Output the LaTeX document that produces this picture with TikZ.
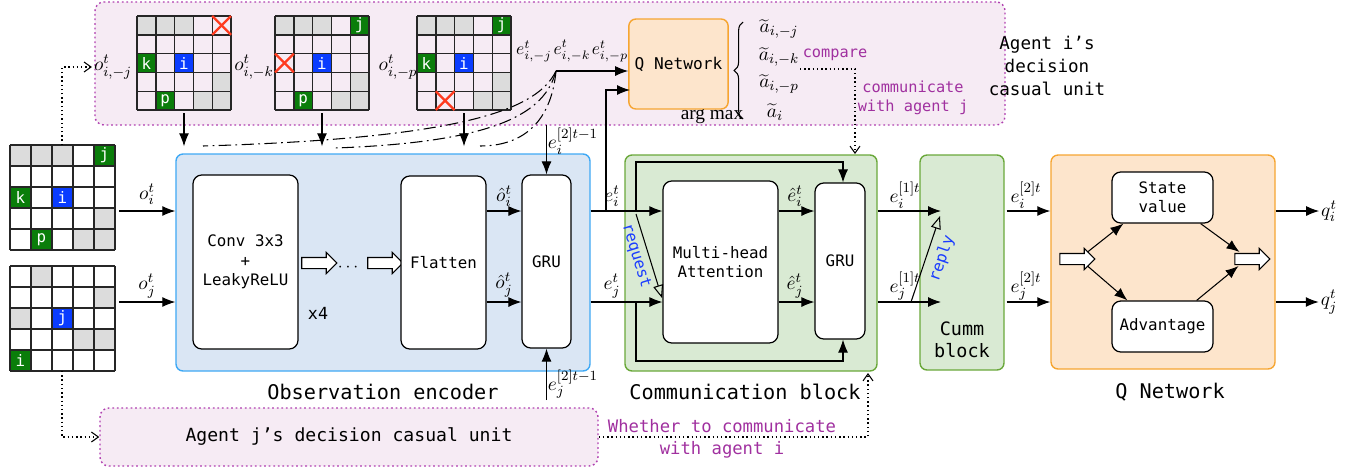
\documentclass[tikz,border=0pt]{standalone}
\usepackage{fontspec}
\setmainfont{Liberation Serif}
\setmonofont{DejaVu Sans Mono}
\usetikzlibrary{arrows.meta, shapes.arrows, positioning, decorations.pathreplacing, calc}

\definecolor{unitpink}{HTML}{F6EBF4}
\definecolor{unitline}{HTML}{B040B0}
\definecolor{talk}{HTML}{A0309F}
\definecolor{encfill}{HTML}{DAE6F4}
\definecolor{encline}{HTML}{3FA9F5}
\definecolor{commfill}{HTML}{D9EAD3}
\definecolor{commline}{HTML}{6AA83A}
\definecolor{qfill}{HTML}{FDE5CC}
\definecolor{qline}{HTML}{F6A531}
\definecolor{cellgray}{HTML}{DCDCDC}
\definecolor{agentgreen}{HTML}{0A7D0A}
\definecolor{agentblue}{HTML}{0A3CFF}
\definecolor{msgblue}{HTML}{1A3CFF}
\definecolor{crossred}{HTML}{FF3B1F}

\tikzset{
  flow/.style={-{Latex[length=2.6mm,width=2mm]}, line width=0.6pt},
  backflow/.style={line width=0.6pt, dash pattern=on 7pt off 2.5pt on 1pt off 2.5pt},
  talkflow/.style={-{Straight Barb[length=1.4mm,width=2mm]}, line width=0.6pt, dash pattern=on 0.8pt off 1.6pt},
  ask/.style={-{Triangle[open,length=2.6mm,width=2mm]}, line width=0.6pt},
  unitbox/.style={draw=unitline, dash pattern=on 1pt off 1.6pt, line width=0.8pt, fill=unitpink, rounded corners=5pt},
  encbox/.style={draw=encline, line width=0.8pt, fill=encfill, rounded corners=4pt},
  commbox/.style={draw=commline, line width=0.8pt, fill=commfill, rounded corners=4pt},
  qbox/.style={draw=qline, line width=0.8pt, fill=qfill, rounded corners=4pt},
  layerbox/.style={draw, fill=white, rounded corners=5pt, line width=0.7pt,
    font=\ttfamily\fontsize{9}{11}\selectfont, align=center, inner sep=0pt},
  blockarrow/.style={single arrow, draw, fill=white, minimum height=7mm,
    single arrow head extend=1mm, inner xsep=0pt, inner ysep=1mm, line width=0.6pt},
  mathlabel/.style={font=\fontsize{11}{12}\selectfont, inner sep=1pt},
  caption/.style={font=\ttfamily\fontsize{11.5}{13}\selectfont},
  talktext/.style={text=talk, font=\ttfamily\fontsize{8.7}{10.8}\selectfont, align=center},
  gridline/.style={line width=0.8pt, draw=black!85},
  agenttag/.style={text=white, font=\ttfamily\fontsize{9}{9}\selectfont, inner sep=0pt},
  crossline/.style={draw=crossred, line width=1.3pt}
}

% observation grid: x0, y0, cell, gray cells, agents
\newcommand{\obsgrid}[5]{%
  \foreach \c/\r in {#4} \fill[cellgray] (#1+\c*#3, #2+\r*#3) rectangle ++(#3,#3);
  \foreach \c/\r/\col/\who in {#5} {
    \fill[\col] (#1+\c*#3, #2+\r*#3) rectangle ++(#3,#3);
    \node[agenttag] at (#1+\c*#3+0.5*#3, #2+\r*#3+0.5*#3) {\who};
  }
  \foreach \k in {0,...,5} {
    \draw[gridline] (#1+\k*#3, #2) -- (#1+\k*#3, #2+5*#3);
    \draw[gridline] (#1, #2+\k*#3) -- (#1+5*#3, #2+\k*#3);
  }
}
% masked agent: x0, y0, cell, col, row
\newcommand{\crossmark}[5]{%
  \draw[crossline] (#1+#4*#3, #2+#5*#3) -- ++(#3,#3);
  \draw[crossline] (#1+#4*#3+#3, #2+#5*#3) -- ++(-#3,#3);
}

\begin{document}
\begin{tikzpicture}[x=0.2mm, y=-0.2mm]
  \useasboundingbox (0,0) rectangle (1363,472);
  \coordinate (rowi) at (0,211);
  \coordinate (rowj) at (0,302);

  % decision casual units
  \node[unitbox, minimum width=182mm, minimum height=24.6mm] (uniti) at (550,63.5) {};
  \node[unitbox, minimum width=99.6mm, minimum height=11.6mm, font=\ttfamily\fontsize{10.3}{12}\selectfont] (unitj) at (349,437) {Agent j’s decision casual unit};
  \node[font=\ttfamily\fontsize{10}{13}\selectfont, align=center] (unititle) at (1047,66) {Agent i’s\\decision\\casual unit};

  % masked observations of agent i
  \obsgrid{137}{16}{18.8}{0/0,1/0,2/0,4/3,3/4,4/4}{0/2/agentgreen/k,2/2/agentblue/i,1/4/agentgreen/p}
  \crossmark{137}{16}{18.8}{4}{0}
  \obsgrid{275}{16}{18.8}{0/0,1/0,2/0,4/3,3/4,4/4}{4/0/agentgreen/j,2/2/agentblue/i,1/4/agentgreen/p}
  \crossmark{275}{16}{18.8}{0}{2}
  \obsgrid{417}{16}{18.8}{0/0,1/0,2/0,4/3,3/4,4/4}{4/0/agentgreen/j,0/2/agentgreen/k,2/2/agentblue/i}
  \crossmark{417}{16}{18.8}{1}{4}
  \node[mathlabel] (oij) at (113,67) {$o^t_{i,-j}$};
  \node[mathlabel] (oik) at (254,67) {$o^t_{i,-k}$};
  \node[mathlabel] (oip) at (398,67) {$o^t_{i,-p}$};
  \coordinate (gij) at (184,113);
  \coordinate (gik) at (322,113);
  \coordinate (gip) at (464,113);

  % full observations
  \obsgrid{10}{145}{21}{0/0,1/0,2/0,4/3,3/4,4/4}{4/0/agentgreen/j,0/2/agentgreen/k,2/2/agentblue/i,1/4/agentgreen/p}
  \obsgrid{10}{266}{21}{1/0,4/1,0/2,3/3,4/3}{2/2/agentblue/j,0/4/agentgreen/i}
  \coordinate (gatop) at (62,145);
  \coordinate (gbbot) at (62,371);
  \coordinate (gaout) at (119,211);
  \coordinate (gbout) at (119,302);

  % observation encoder
  \node[encbox, minimum width=82.8mm, minimum height=43.4mm] (enc) at (383,262.5) {};
  \node[layerbox, minimum width=21mm, minimum height=34.8mm] (conv) at (245.5,262) {Conv 3x3\\+\\LeakyReLU};
  \node[blockarrow] (hop1) at (316.5,263) {};
  \node (dots) at (348,268) {$\cdots$};
  \node[blockarrow] (hop2) at (382.5,263) {};
  \node[font=\ttfamily\fontsize{9.5}{11}\selectfont] (times) at (318,313) {x4};
  \node[layerbox, minimum width=17mm, minimum height=34.6mm] (flatten) at (443.5,262.5) {Flatten};
  \node[layerbox, minimum width=9.8mm, minimum height=34.6mm] (grua) at (546.5,261.5) {GRU};
  \node[caption] (enccap) at (383,392) {Observation encoder};

  % communication block
  \node[commbox, minimum width=50.4mm, minimum height=43.2mm] (comm) at (751,263) {};
  \node[layerbox, minimum width=23mm, minimum height=32.4mm] (mha) at (720.5,262) {Multi-head\\Attention};
  \node[layerbox, minimum width=10mm, minimum height=31.2mm] (grub) at (840,261) {GRU};
  \node[caption] (commcap) at (745,392) {Communication block};

  % cumm block
  \node[commbox, minimum width=16.8mm, minimum height=43mm] (cumm) at (962,262.5) {};
  \node[font=\ttfamily\fontsize{10.5}{12.5}\selectfont, align=center] (cummtext) at (962,340) {Cumm\\block};

  % Q network
  \node[qbox, minimum width=44.8mm, minimum height=42.8mm] (qnet) at (1163,262) {};
  \node[layerbox, minimum width=20.2mm, minimum height=10.2mm] (state) at (1162.5,197.5) {State\\value};
  \node[layerbox, minimum width=20.2mm, minimum height=10.2mm] (adv) at (1162.5,326.5) {Advantage};
  \node[blockarrow] (qin) at (1074.5,259) {};
  \node[blockarrow] (qout) at (1249.5,259) {};
  \node[caption] (qcap) at (1170,392) {Q Network};
  \node[qbox, minimum width=19.4mm, minimum height=18mm, font=\ttfamily\fontsize{9.2}{11}\selectfont] (qsmall) at (678.5,64) {Q Network};

  % inputs of the encoder
  \draw[flow] (gaout) -- (enc.west |- rowi);
  \node[mathlabel] (oi) at (147,194) {$o^t_i$};
  \draw[flow] (gbout) -- (enc.west |- rowj);
  \node[mathlabel] (oj) at (147,286) {$o^t_j$};
  \draw[flow] (gij) -- ([yshift=1.4mm]gij |- enc.north);
  \draw[flow] (gik) -- ([yshift=1.4mm]gik |- enc.north);
  \draw[flow] (gip) -- ([yshift=1.4mm]gip |- enc.north);

  % inside the encoder
  \draw[flow] (flatten.east |- rowi) -- (grua.west |- rowi);
  \node[mathlabel] (ohi) at (504,196) {$\hat{o}^t_i$};
  \draw[flow] (flatten.east |- rowj) -- (grua.west |- rowj);
  \node[mathlabel] (ohj) at (504,285) {$\hat{o}^t_j$};
  \coordinate (hiin) at (546.5,125);
  \coordinate (hjin) at (546.5,400);
  \draw[flow] (hiin) -- (grua.north);
  \draw[flow] (hjin) -- (grua.south);
  \node[mathlabel] (hil) at (573,141) {$e^{[2]t-1}_i$};
  \node[mathlabel] (hjl) at (573,384) {$e^{[2]t-1}_j$};

  % counterfactual encodings to the small Q network
  \coordinate (junc) at (556,71);
  \coordinate (qin2) at (630,90);
  \coordinate (tap) at (606,211);
  \node[mathlabel, font=\fontsize{10}{11}\selectfont] (eij) at (534,51) {$e^t_{i,-j}$};
  \node[mathlabel, font=\fontsize{10}{11}\selectfont] (eik) at (572,51) {$e^t_{i,-k}$};
  \node[mathlabel, font=\fontsize{10}{11}\selectfont] (eip) at (610,51) {$e^t_{i,-p}$};
  \draw[flow] (junc) -- (junc -| qsmall.west);
  \draw[flow] (tap) |- (qin2);
  \draw[backflow] (junc) .. controls (538,108) and (470,138) .. (203,146);
  \draw[backflow] (junc) .. controls (545,112) and (500,142) .. (335,148);
  \draw[backflow] (junc) .. controls (552,114) and (530,146) .. (480,146);

  % actions and argmax
  \draw[line width=0.6pt, decorate, decoration={brace, amplitude=5pt}] (743,119) -- (743,22);
  \node[font=\fontsize{11}{12}\selectfont] (argmax) at (712,117) {arg max};
  \node[mathlabel] (aij) at (779,29) {$\widetilde{a}_{i,-j}$};
  \node[mathlabel] (aik) at (779,57) {$\widetilde{a}_{i,-k}$};
  \node[mathlabel] (aip) at (779,84) {$\widetilde{a}_{i,-p}$};
  \node[mathlabel] (ai) at (775,112) {$\widetilde{a}_{i}$};
  \node[talktext] (compare) at (835,55) {compare};
  \node[talktext] (commj) at (913,98) {communicate\\with agent j};
  \coordinate (cmpstart) at (800,69);
  \coordinate (cmpend) at (855,154);
  \draw[talkflow] (cmpstart) -| (cmpend);

  % encoder to communication block
  \draw[flow] (enc.east |- rowi) -- (mha.west |- rowi);
  \draw[flow] (enc.east |- rowj) -- (mha.west |- rowj);
  \node[mathlabel] (ei) at (612,196) {$e^t_i$};
  \node[mathlabel] (ej) at (612,286) {$e^t_j$};
  \coordinate (bypi) at (636,211);
  \coordinate (bypj) at (636,302);
  \draw[flow] (bypi) -- (636,162) -| ([xshift=0.6mm]grub.north);
  \draw[flow] (bypj) -- (636,361) -| ([xshift=0.6mm]grub.south);
  \draw[ask] (636,214) -- (662,298);
  \node[text=msgblue, font=\ttfamily\fontsize{9}{10}\selectfont, rotate=-73] (request) at (636,256) {request};
  \draw[flow] (mha.east |- rowi) -- (grub.west |- rowi);
  \draw[flow] (mha.east |- rowj) -- (grub.west |- rowj);
  \node[mathlabel] (ehi) at (795,196) {$\hat{e}^t_i$};
  \node[mathlabel] (ehj) at (795,286) {$\hat{e}^t_j$};

  % communication block to cumm block
  \coordinate (cummi) at (941,211);
  \coordinate (cummj) at (941,302);
  \draw[flow] (comm.east |- rowi) -- (cummi);
  \draw[flow] (comm.east |- rowj) -- (cummj);
  \node[mathlabel] (e1i) at (905,195) {$e^{[1]t}_i$};
  \node[mathlabel] (e1j) at (905,286) {$e^{[1]t}_j$};
  \draw[ask] (911,302) -- (940,216);
  \node[text=msgblue, font=\ttfamily\fontsize{9}{10}\selectfont, rotate=71] (reply) at (942,259) {reply};

  % cumm block to Q network
  \draw[flow] ([xshift=0.4mm]cumm.east |- rowi) -- (qnet.west |- rowi);
  \draw[flow] ([xshift=0.4mm]cumm.east |- rowj) -- (qnet.west |- rowj);
  \node[mathlabel] (e2i) at (1026,195) {$e^{[2]t}_i$};
  \node[mathlabel] (e2j) at (1026,286) {$e^{[2]t}_j$};

  % dueling heads
  \draw[flow] ($(qin.east)+(-8,-7)$) -- ($(state.south west)+(12,0)$);
  \draw[flow] ($(qin.east)+(-8,7)$) -- ($(adv.north west)+(16,0)$);
  \draw[flow] ($(state.south east)+(-13,0)$) -- ($(qout.center)+(-10,-7)$);
  \draw[flow] ($(adv.north east)+(-17,0)$) -- ($(qout.center)+(-11,7)$);
  \node[mathlabel] (qi) at (1329,211) {$q^t_i$};
  \node[mathlabel] (qj) at (1329,302) {$q^t_j$};
  \draw[flow] (qnet.east |- rowi) -- (qi.west);
  \draw[flow] (qnet.east |- rowj) -- (qj.west);

  % decision links
  \draw[talkflow] (gatop) |- (oij.west);
  \draw[talkflow] (gbbot) |- (unitj.west);
  \coordinate (commbot) at (868,373);
  \draw[talkflow] (unitj.east) -| (commbot);
  \node[talktext, font=\ttfamily\fontsize{9.8}{12.5}\selectfont] (whether) at (722,439) {Whether to communicate\\with agent i};
\end{tikzpicture}
\end{document}
